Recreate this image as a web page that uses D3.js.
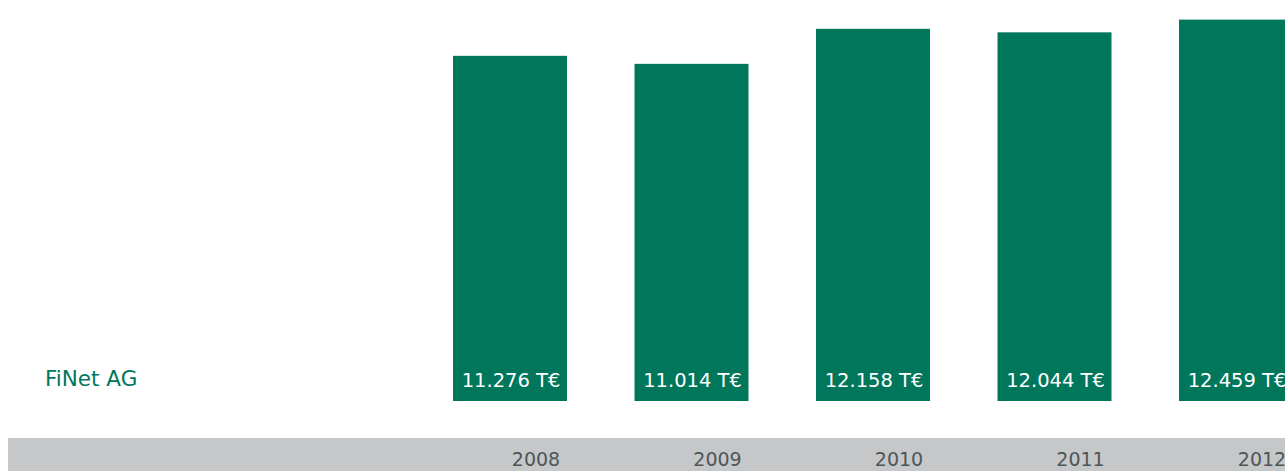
<!DOCTYPE html>
<html>
<head>
<meta charset="utf-8">
<script src="https://cdn.jsdelivr.net/npm/d3@7"></script>
<style>
  html, body { margin: 0; padding: 0; background: #fff; overflow: hidden; }
  svg { display: block; }
  text { font-family: "DejaVu Sans", Verdana, sans-serif; }
</style>
</head>
<body>
<svg id="chart" width="1285" height="471"></svg>
<script>
const years = ["2008", "2009", "2010", "2011", "2012"];
const values = [11276, 11014, 12158, 12044, 12459];
const valueLabels = ["11.276 T€", "11.014 T€", "12.158 T€", "12.044 T€", "12.459 T€"];
const seriesName = "FiNet AG";

const W = 1285, H = 471;
const green = "#00775b";
const svg = d3.select("#chart");

const x = d3.scaleBand()
  .domain(years)
  .range([419.25, 1326.75])
  .paddingInner(0.372)
  .paddingOuter(0.186);

const y = d3.scaleLinear()
  .domain([0, 13100])
  .range([401, 0]);

// grey band at bottom
svg.append("rect")
  .attr("x", 8).attr("y", 438)
  .attr("width", W - 8).attr("height", H - 438)
  .attr("fill", "#c6c7c9");

// bars
svg.selectAll("rect.bar")
  .data(years)
  .join("rect")
  .attr("class", "bar")
  .attr("x", d => x(d))
  .attr("y", (d, i) => y(values[i]))
  .attr("width", x.bandwidth())
  .attr("height", (d, i) => y(0) - y(values[i]))
  .attr("fill", green);

// value labels
svg.selectAll("text.val")
  .data(years)
  .join("text")
  .attr("class", "val")
  .attr("x", d => x(d) + x.bandwidth() / 2 + 1)
  .attr("y", 387)
  .attr("text-anchor", "middle")
  .attr("fill", "#ffffff")
  .attr("font-size", 19.5)
  .text((d, i) => valueLabels[i]);

// year axis labels
const xAxis = d3.axisBottom(x).tickSize(0).tickPadding(0);
const ax = svg.append("g").attr("transform", "translate(0,452)").call(xAxis);
ax.select(".domain").remove();
ax.selectAll("text")
  .attr("dx", 26)
  .attr("font-size", 19)
  .attr("font-family", "DejaVu Sans, Verdana, sans-serif")
  .attr("fill", "#4d5657");

// series label
svg.append("text")
  .attr("x", 45).attr("y", 386)
  .attr("font-size", 21.5)
  .attr("fill", green)
  .text(seriesName);
</script>
</body>
</html>
